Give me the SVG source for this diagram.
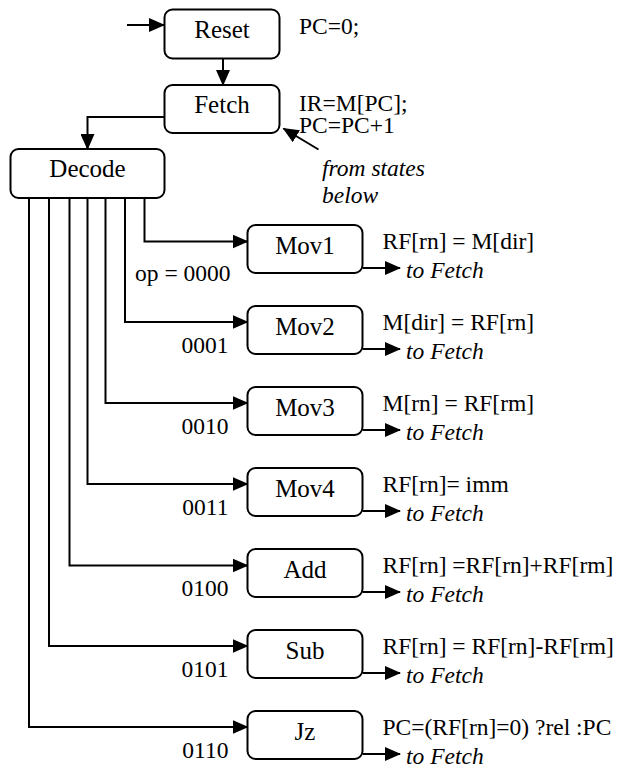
<svg xmlns="http://www.w3.org/2000/svg" width="621" height="768" viewBox="0 0 621 768" font-family="Liberation Serif, Times New Roman, DejaVu Serif, serif">
<defs>
<marker id="ah" viewBox="0 0 16 14" markerUnits="userSpaceOnUse" markerWidth="16" markerHeight="14" refX="15" refY="7" orient="auto">
<path d="M0,0 L16,7 L0,14 z" fill="#000"/>
</marker>
<style>
.box{fill:#fff;stroke:#000;stroke-width:2}
.lbl{font-size:25px;text-anchor:middle;fill:#000}
.ann{font-size:23.5px;fill:#000}
.it{font-style:italic}
.op{font-size:23.5px;text-anchor:end;fill:#000}
.ca{fill:none;stroke:#000;stroke-width:2;marker-end:url(#ah)}
</style>
</defs>
<rect width="621" height="768" fill="#fff"/>
<g id="connectors">
<path class="ca" d="M127,25 H164"/>
<path class="ca" d="M223,58 V85"/>
<path class="ca" d="M164,117 H87.5 V149"/>
<path class="ca" d="M318.5,149.5 L283.5,128.5"/>
<path class="ca" d="M144.5,198 V241.5 H247.5"/>
<path class="ca" d="M125,198 V322 H247.5"/>
<path class="ca" d="M105.5,198 V403 H247.5"/>
<path class="ca" d="M87.5,198 V484 H247.5"/>
<path class="ca" d="M69.5,198 V565.5 H247.5"/>
<path class="ca" d="M49,198 V646 H247.5"/>
<path class="ca" d="M29,198 V727 H247.5"/>
<path class="ca" d="M362.5,268 H400"/>
<path class="ca" d="M362.5,349 H400"/>
<path class="ca" d="M362.5,430 H400"/>
<path class="ca" d="M362.5,511 H400"/>
<path class="ca" d="M362.5,592 H400"/>
<path class="ca" d="M362.5,673 H400"/>
<path class="ca" d="M362.5,754 H400"/>
</g>
<g id="reset">
<rect class="box" x="164.5" y="9.5" width="115" height="49" rx="8"/>
<text class="lbl" x="222" y="38">Reset</text>
<text class="ann" x="299" y="33.5">PC=0;</text>
</g>
<g id="fetch">
<rect class="box" x="164.5" y="85" width="115" height="48" rx="8"/>
<text class="lbl" x="222" y="113">Fetch</text>
<text class="ann" x="299" y="111">IR=M[PC];</text>
<text class="ann" x="299" y="133">PC=PC+1</text>
</g>
<g id="from-states">
<text class="ann it" x="322" y="176">from states</text>
<text class="ann it" x="322" y="203">below</text>
</g>
<g id="decode">
<rect class="box" x="10.5" y="149" width="154" height="49" rx="8"/>
<text class="lbl" x="87.5" y="177">Decode</text>
</g>
<g id="mov1">
<rect class="box" x="247.5" y="225" width="115" height="48" rx="8"/>
<text class="lbl" x="305" y="253.5">Mov1</text>
<text class="ann" x="382.5" y="248.5">RF[rn] = M[dir]</text>
<text class="ann it" x="406" y="278">to Fetch</text>
<text class="ann" x="135" y="281">op = 0000</text>
</g>
<g id="mov2">
<rect class="box" x="247.5" y="306" width="115" height="48" rx="8"/>
<text class="lbl" x="305" y="334.5">Mov2</text>
<text class="ann" x="382.5" y="330">M[dir] = RF[rn]</text>
<text class="ann it" x="406" y="359">to Fetch</text>
<text class="op" x="228.5" y="353">0001</text>
</g>
<g id="mov3">
<rect class="box" x="247.5" y="387" width="115" height="48" rx="8"/>
<text class="lbl" x="305" y="415.5">Mov3</text>
<text class="ann" x="382.5" y="411">M[rn] = RF[rm]</text>
<text class="ann it" x="406" y="440">to Fetch</text>
<text class="op" x="228.5" y="434">0010</text>
</g>
<g id="mov4">
<rect class="box" x="247.5" y="468" width="115" height="48" rx="8"/>
<text class="lbl" x="305" y="496.5">Mov4</text>
<text class="ann" x="382.5" y="492">RF[rn]= imm</text>
<text class="ann it" x="406" y="521">to Fetch</text>
<text class="op" x="228.5" y="515">0011</text>
</g>
<g id="add">
<rect class="box" x="247.5" y="549" width="115" height="48" rx="8"/>
<text class="lbl" x="305" y="577.5">Add</text>
<text class="ann" x="382.5" y="573">RF[rn] =RF[rn]+RF[rm]</text>
<text class="ann it" x="406" y="602">to Fetch</text>
<text class="op" x="228.5" y="596">0100</text>
</g>
<g id="sub">
<rect class="box" x="247.5" y="630" width="115" height="48" rx="8"/>
<text class="lbl" x="305" y="658.5">Sub</text>
<text class="ann" x="382.5" y="654">RF[rn] = RF[rn]-RF[rm]</text>
<text class="ann it" x="406" y="683">to Fetch</text>
<text class="op" x="228.5" y="677">0101</text>
</g>
<g id="jz">
<rect class="box" x="247.5" y="711" width="115" height="48" rx="8"/>
<text class="lbl" x="305" y="739.5">Jz</text>
<text class="ann" x="382.5" y="735">PC=(RF[rn]=0) ?rel :PC</text>
<text class="ann it" x="406" y="764">to Fetch</text>
<text class="op" x="228.5" y="758">0110</text>
</g>
</svg>
